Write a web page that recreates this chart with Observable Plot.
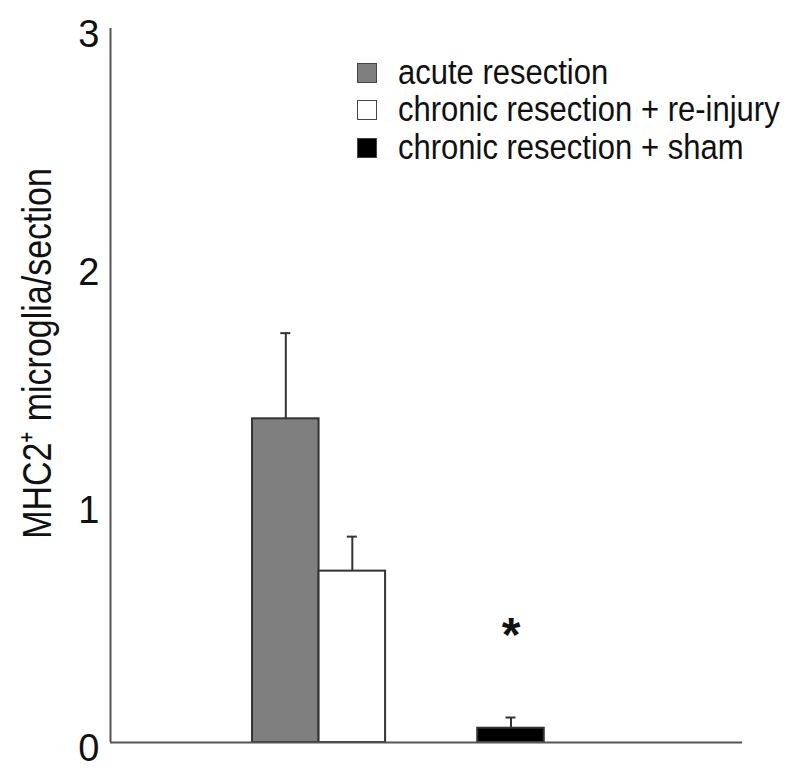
<!DOCTYPE html>
<html>
<head>
<meta charset="utf-8">
<script src="https://cdn.jsdelivr.net/npm/d3@7"></script>
<script src="https://cdn.jsdelivr.net/npm/@observablehq/plot@0.6"></script>
<style>
  html, body { margin: 0; padding: 0; background: #fff; }
  #wrap { position: relative; width: 800px; height: 777px; font-family: "Liberation Sans", Arial, Helvetica, sans-serif; }
  #legend { position: absolute; left: 357px; top: 54px; }
  .row { display: flex; align-items: center; height: 37.5px; font-size: 31px; color: #111; white-space: nowrap; }
  .row .txt { display: inline-block; transform: scaleY(1.12); }
  .sw { width: 18px; height: 18px; margin-right: 21px; box-sizing: content-box; border: 1.5px solid #444; }
</style>
</head>
<body>
<div id="wrap"><div id="legend"></div></div>
<script>
// ---- data ----
const categories = ["acute resection", "chronic resection + re-injury", "chronic resection + sham"];
const means = [1.36, 0.72, 0.06];
const sems = [0.36, 0.145, 0.045];
const fills = ["#7f7f7f", "#ffffff", "#000000"];
const yTicks = [0, 1, 2, 3];
const yLabel = "MHC2\u207A microglia/section";
const significant = ["chronic resection + sham"];

// layout (bar slot positions along the x axis, in bar widths)
const slot = {"acute resection": 2.135, "chronic resection + re-injury": 3.135, "chronic resection + sham": 5.52};

const data = categories.map((c, i) => ({cat: c, mean: means[i], top: means[i] + sems[i], fill: fills[i]}));
const center = d => slot[d.cat] + 0.5;

const chart = Plot.plot({
  width: 800,
  height: 777,
  marginLeft: 110,
  marginRight: 58,
  marginTop: 28,
  marginBottom: 35,
  style: {fontFamily: "'Liberation Sans', Arial, Helvetica, sans-serif", color: "#111", background: "#fff"},
  x: {type: "linear", domain: [0, 9.5], axis: null},
  y: {domain: [0, 3], axis: null},
  marks: [
    Plot.axisY({ticks: yTicks, tickSize: 0, tickPadding: 11, fontSize: 38, dy: 6, label: null, tickFormat: d3.format("d")}),
    Plot.text([yLabel], {frameAnchor: "left", text: d => d, rotate: -90, dx: -73, dy: -32, fontSize: 34, textAnchor: "middle", lineAnchor: "middle", fill: "#111", className: "ylab"}),
    Plot.ruleX(data, {x: center, y1: "mean", y2: "top", stroke: "#333", strokeWidth: 2}),
    Plot.ruleY(data, {y: "top", x1: d => center(d) - 0.075, x2: d => center(d) + 0.075, stroke: "#333", strokeWidth: 2}),
    Plot.rectY(data, {x1: d => slot[d.cat], x2: d => slot[d.cat] + 1, y1: 0, y2: "mean", fill: "fill", stroke: "#333", strokeWidth: 2}),
    Plot.ruleX([0], {y1: 0, y2: 3, stroke: "#555", strokeWidth: 2}),
    Plot.ruleY([0], {stroke: "#555", strokeWidth: 2}),
    Plot.text(data.filter(d => significant.includes(d.cat)), {x: center, y: "top", text: () => "*", dy: -82, fontSize: 48, fontWeight: "bold", fill: "#111", lineAnchor: "middle"})
  ]
});
// stretch the rotated y label across its line height to match the reference glyph proportions
chart.querySelectorAll("g.ylab text").forEach(t => {
  const tr = t.getAttribute("transform") || "";
  t.setAttribute("transform", tr + " scale(1,1.2)");
});
const wrap = document.getElementById("wrap");
wrap.insertBefore(chart, wrap.firstChild);

const legend = document.getElementById("legend");
categories.forEach((c, i) => {
  const row = document.createElement("div");
  row.className = "row";
  const sw = document.createElement("span");
  sw.className = "sw";
  sw.style.background = fills[i];
  row.appendChild(sw);
  const t = document.createElement("span");
  t.className = "txt";
  t.textContent = c;
  row.appendChild(t);
  legend.appendChild(row);
});
</script>
</body>
</html>
